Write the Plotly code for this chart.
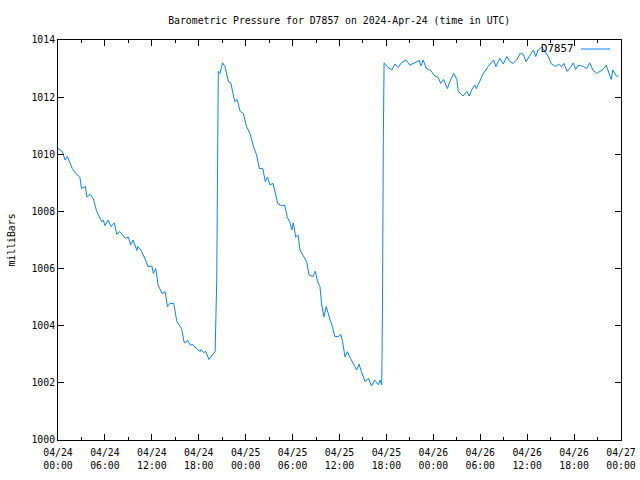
import plotly.graph_objects as go
import pandas as pd

# hours since 2024-04-24 00:00 UTC
hours = [0, 0.55, 0.9, 1.2, 1.83, 2.26, 2.8, 3.0, 3.5, 3.7, 4.1, 4.5, 4.95, 5.6, 5.8, 6.0, 6.4, 6.8, 7.2,
         7.5, 7.9, 8.6, 9.0, 9.3, 9.6, 10.1, 10.2, 10.6, 11.1, 11.5, 12.0, 12.2, 12.5, 12.8, 13.3, 13.7,
         14.0, 14.3, 14.8, 15.2, 15.8, 16.15, 16.6, 16.9, 17.3, 17.7, 18.2, 18.3, 18.6, 18.9, 19.3, 19.65,
         20.1, 20.3, 20.4, 20.5, 20.7, 21.05, 21.35, 21.8, 22.1, 22.4, 22.6, 22.9, 23.3, 23.7, 24.1, 24.55,
         24.97, 25.4, 25.75, 26.2, 26.5, 26.8, 27.1, 27.5, 28.1, 28.6, 29.0, 29.3, 29.7, 29.9, 30.1, 30.4,
         30.7, 30.95, 31.4, 31.8, 32.1, 32.6, 32.9, 33.2, 33.5, 33.7, 34.0, 34.3, 34.8, 35.1, 35.4, 35.85,
         36.15, 36.4, 36.7, 37.0, 37.4, 37.8, 38.2, 38.5, 38.8, 39.3, 39.7, 40.1, 40.5, 40.96, 41.2, 41.4,
         41.5, 41.6, 41.7, 42.1, 42.7, 43.1, 43.5, 43.9, 44.5, 45.0, 45.65, 46.2, 46.4, 46.7, 47.1, 47.6,
         48.2, 48.6, 48.95, 49.3, 49.8, 50.1, 50.6, 51.0, 51.2, 51.8, 52.3, 52.6, 52.9, 53.3, 53.5, 54.0,
         54.4, 55.0, 55.3, 55.7, 56.0, 56.5, 56.95, 57.4, 57.8, 58.2, 58.7, 59.1, 59.5, 59.85, 60.3, 60.8,
         61.1, 61.4, 61.85, 62.3, 62.7, 63.1, 63.7, 64.0, 64.4, 64.7, 65.1, 65.55, 65.9, 66.2, 66.6, 67.2,
         67.6, 68.0, 68.4, 68.9, 69.3, 69.7, 70.1, 70.45, 70.75, 70.95, 71.4, 71.7]

pressure = [1010.2, 1010.1, 1009.8, 1009.92, 1009.5, 1009.33, 1009.2, 1008.8, 1008.87, 1008.5, 1008.6,
            1008.46, 1008.0, 1007.64, 1007.7, 1007.5, 1007.7, 1007.47, 1007.6, 1007.2, 1007.3, 1007.06,
            1007.1, 1006.83, 1007.0, 1006.63, 1006.77, 1006.65, 1006.36, 1006.07, 1006.09, 1005.83, 1006.0,
            1005.43, 1005.13, 1005.19, 1004.67, 1004.78, 1004.78, 1004.14, 1003.9, 1003.4, 1003.48, 1003.33,
            1003.33, 1003.2, 1003.1, 1003.17, 1003.06, 1003.1, 1002.82, 1002.94, 1003.1, 1005.6, 1010.5,
            1012.9, 1012.83, 1013.2, 1013.07, 1012.54, 1012.5, 1012.13, 1011.84, 1011.92, 1011.5, 1011.43,
            1010.97, 1010.73, 1010.3, 1009.97, 1009.5, 1009.5, 1009.04, 1009.2, 1008.93, 1008.98, 1008.28,
            1008.2, 1008.22, 1007.82, 1007.58, 1007.35, 1007.6, 1007.1, 1007.18, 1006.65, 1006.42, 1006.24,
            1005.78, 1005.72, 1005.91, 1005.54, 1005.37, 1004.78, 1004.31, 1004.67, 1004.2, 1003.97, 1003.62,
            1003.62, 1003.7, 1003.44, 1002.91, 1003.09, 1002.86, 1002.63, 1002.45, 1002.66, 1002.39, 1002.04,
            1002.16, 1001.89, 1002.1, 1001.93, 1002.1, 1001.93, 1004.73, 1010.38, 1013.2, 1013.07, 1012.95,
            1013.16, 1013.04, 1013.2, 1013.3, 1013.12, 1013.2, 1013.28, 1013.09, 1013.3, 1013.0, 1012.95,
            1012.74, 1012.7, 1012.48, 1012.62, 1012.3, 1012.54, 1012.83, 1012.62, 1012.2, 1012.04, 1012.2,
            1012.04, 1012.25, 1012.43, 1012.3, 1012.6, 1012.83, 1013.07, 1013.18, 1013.3, 1013.07, 1013.36,
            1013.16, 1013.42, 1013.24, 1013.18, 1013.32, 1013.53, 1013.5, 1013.24, 1013.44, 1013.65, 1013.42,
            1013.65, 1013.74, 1013.6, 1013.42, 1013.16, 1013.07, 1013.16, 1013.07, 1013.18, 1012.9, 1013.04,
            1013.2, 1012.97, 1013.12, 1013.07, 1013.0, 1013.2, 1012.95, 1012.83, 1012.9, 1012.97, 1013.12,
            1012.83, 1012.62, 1012.95, 1012.74, 1012.74]

tick_hours = list(range(0, 73, 6))
tick_labels = ["04/24<br>00:00", "04/24<br>06:00", "04/24<br>12:00", "04/24<br>18:00",
               "04/25<br>00:00", "04/25<br>06:00", "04/25<br>12:00", "04/25<br>18:00",
               "04/26<br>00:00", "04/26<br>06:00", "04/26<br>12:00", "04/26<br>18:00",
               "04/27<br>00:00"]
y_ticks = [1000, 1002, 1004, 1006, 1008, 1010, 1012, 1014]

start = pd.Timestamp("2024-04-24 00:00")
times = [start + pd.Timedelta(hours=h) for h in hours]
tick_times = [start + pd.Timedelta(hours=h) for h in tick_hours]

FONT = "DejaVu Sans Mono"
FS = 9.8
color = "#0a84f5"

fig = go.Figure()
fig.add_trace(go.Scatter(x=times, y=pressure, mode="lines", name="D7857",
                         line=dict(color=color, width=1), showlegend=False))

fig.update_layout(
    width=640, height=480,
    margin=dict(l=58, r=19, t=40, b=40, autoexpand=False),
    paper_bgcolor="white", plot_bgcolor="white",
    font=dict(family=FONT, size=FS, color="black"),
    title=dict(text="Barometric Pressure for D7857 on 2024-Apr-24 (time in UTC)",
               x=0.53, xanchor="center", y=0.958, yanchor="middle",
               font=dict(family=FONT, size=FS)),
)
fig.update_xaxes(
    range=[tick_times[0], tick_times[-1]], automargin=False,
    tickmode="array", tickvals=tick_times, ticktext=tick_labels,
    ticks="inside", ticklen=6, tickcolor="black", tickwidth=1,
    showline=True, linecolor="black", linewidth=1, mirror="ticks",
    showgrid=False, zeroline=False, ticklabelstandoff=3,
    minor=dict(ticks="inside", ticklen=3, tickcolor="black", dtick=3 * 3600 * 1000,
               tick0=tick_times[0], showgrid=False),
    tickfont=dict(family=FONT, size=FS),
)
fig.update_yaxes(
    range=[1000, 1014], tickmode="array", tickvals=y_ticks, automargin=False,
    ticks="inside", ticklen=6, tickcolor="black", tickwidth=1,
    showline=True, linecolor="black", linewidth=1, mirror="ticks",
    showgrid=False, zeroline=False,
    title=dict(text="milliBars", font=dict(family=FONT, size=FS), standoff=14),
    tickfont=dict(family=FONT, size=FS),
)

# gnuplot-style legend: text then line sample, top right inside plot
fig.add_annotation(xref="paper", yref="paper", x=(576 - 58) / 563, y=(440 - 49) / 400,
                   text="D7857", showarrow=False, xanchor="right", yanchor="middle",
                   font=dict(family=FONT, size=FS + 1, color="black"))
fig.add_shape(type="line", xref="paper", yref="paper",
              x0=(581 - 58) / 563, x1=(610 - 58) / 563,
              y0=(440 - 49) / 400, y1=(440 - 49) / 400,
              line=dict(color=color, width=1))

fig.write_html("out.html")
